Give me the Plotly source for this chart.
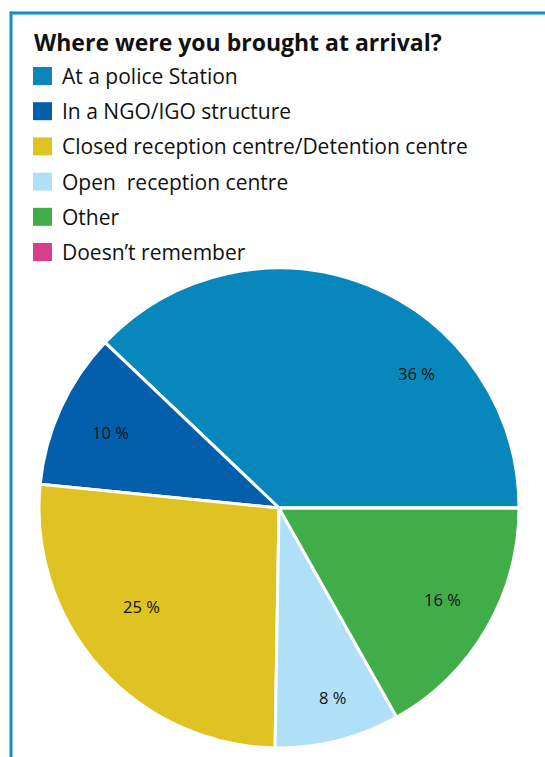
import plotly.graph_objects as go

title = "Where were you brought at arrival?"
labels = ["At a police Station", "In a NGO/IGO structure",
          "Closed reception centre/Detention centre", "Open  reception centre",
          "Other", "Doesn\u2019t remember"]
values = [36, 10, 25, 8, 16, 0]
colors = ["#0787bb", "#035eab", "#dfc323", "#b0e0f7", "#41ad49", "#d53f8b"]
text_labels = [f"{v} %" for v in values]

W, H = 545, 757
FONT = "Open Sans"

# placement of the percentage labels (pixels from top-left), as in the original
label_pos = [(416, 373), (110, 432), (141, 606), (332, 697), (442, 599), None]

# plotly's counterclockwise mode places the first slice clockwise of `rotation`;
# shift so the first slice starts at 3 o'clock going counterclockwise
rotation = 90 - 360 * values[0] / sum(values)

fig = go.Figure(go.Pie(
    labels=labels, values=values, text=text_labels,
    textinfo="none", hoverinfo="label+text",
    marker=dict(colors=colors, line=dict(color="white", width=3)),
    sort=False, direction="counterclockwise", rotation=rotation,
    showlegend=False,
    domain=dict(x=[(279 - 240) / W, (279 + 240) / W], y=[9 / H, 489 / H]),
))

shapes = [
    dict(type="line", xref="paper", yref="paper", x0=10 / W, x1=1.0, y0=1 - 13 / H, y1=1 - 13 / H,
         line=dict(color="#1190c6", width=3)),
    dict(type="line", xref="paper", yref="paper", x0=11 / W, x1=11 / W, y0=0, y1=1 - 11.5 / H,
         line=dict(color="#1190c6", width=3)),
]
annotations = [dict(text=f"<b>{title}</b>", xref="paper", yref="paper", x=32 / W, y=1 - 42 / H,
                    xanchor="left", yanchor="middle", showarrow=False,
                    font=dict(family=FONT, size=23, color="#111111"))]
for i, (lab, col) in enumerate(zip(labels, colors)):
    yc = 76 + i * 35.2
    shapes.append(dict(type="rect", xref="paper", yref="paper",
                       x0=33 / W, x1=52 / W, y0=1 - (yc - 9) / H, y1=1 - (yc + 9) / H,
                       fillcolor=col, line=dict(width=0)))
    annotations.append(dict(text=lab, xref="paper", yref="paper", x=60 / W, y=1 - yc / H,
                            xanchor="left", yanchor="middle", showarrow=False,
                            font=dict(family=FONT, size=21, color="#111111")))

for txt, pos in zip(text_labels, label_pos):
    if pos is None:
        continue
    annotations.append(dict(text=txt, xref="paper", yref="paper",
                            x=pos[0] / W, y=1 - pos[1] / H,
                            xanchor="center", yanchor="middle", showarrow=False,
                            font=dict(family=FONT, size=16.5, color="#111111")))

fig.update_layout(width=W, height=H, margin=dict(l=0, r=0, t=0, b=0),
                  paper_bgcolor="white", plot_bgcolor="white",
                  shapes=shapes, annotations=annotations)
fig.write_html("out.html", config={"displayModeBar": False},
               post_script="document.body.style.margin='0px';")
